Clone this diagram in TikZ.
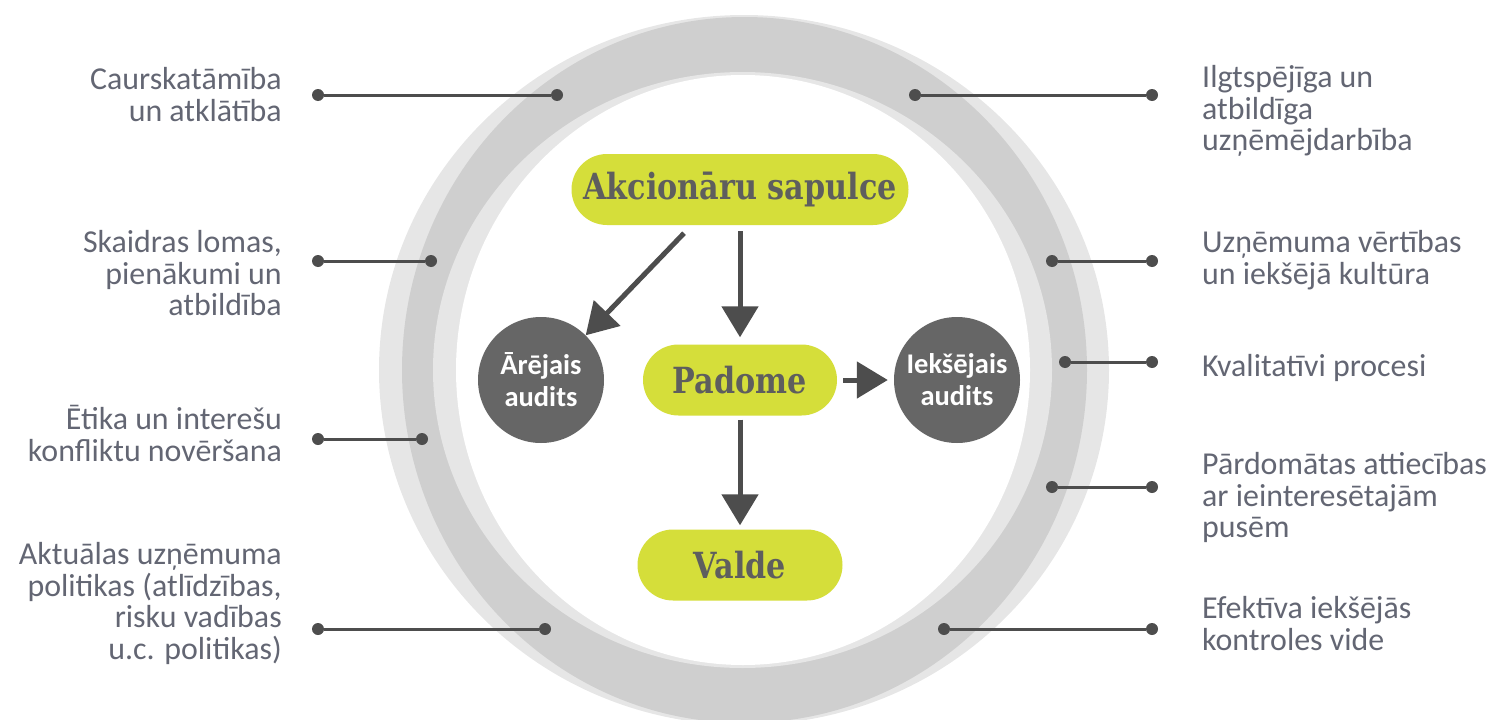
\documentclass[tikz,border=0pt]{standalone}
\usepackage{fontspec}
\setmainfont{Carlito}
\newfontfamily\slabfont{DejaVu Serif}
\usetikzlibrary{arrows.meta}
\definecolor{ringlight}{HTML}{E6E6E6}
\definecolor{ringmid}{HTML}{CFCFCF}
\definecolor{labeltext}{RGB}{99,102,115}
\definecolor{dotgray}{HTML}{4D4D4D}
\definecolor{pillgreen}{RGB}{213,222,58}
\definecolor{pilltext}{HTML}{5E5E5E}
\definecolor{auditgray}{HTML}{666666}
\definecolor{arrowgray}{HTML}{4D4D4D}
\newcommand{\lstrut}{\rule{0pt}{27pt}}
\newcommand{\slabtext}[1]{\scalebox{0.84}[1]{#1}}
\begin{document}
\begin{tikzpicture}[x=1pt,y=-1pt,
 pill/.style={fill=pillgreen, rounded corners=35.5pt, minimum height=71pt, inner sep=0pt, text=pilltext, font=\slabfont\bfseries\fontsize{36}{38}\selectfont},
 audit/.style={circle, fill=auditgray, minimum size=126pt, inner sep=0pt, text=white, align=center, font=\bfseries\fontsize{28.5}{32}\selectfont},
 flow/.style={-{Triangle[length=31pt,width=36pt]}, line width=5pt, draw=arrowgray},
 dot/.style={circle, fill=dotgray, minimum size=12pt, inner sep=0pt},
 link/.style={draw=dotgray, line width=3pt},
 lbl/.style={inner sep=0pt, text=labeltext, font=\fontsize{31.9}{31.8}\selectfont},
 lblL/.style={lbl, align=right, anchor=north east},
 lblR/.style={lbl, align=left, anchor=north west},
]
\useasboundingbox (0,0) rectangle (1492,720);
\clip (0,0) rectangle (1492,720);
% rings
\fill[ringlight] (744,370) ellipse [x radius=365, y radius=355];
\fill[ringmid] (744.5,370) ellipse [x radius=342.5, y radius=353];
\fill[ringlight] (742.5,370) ellipse [x radius=309.5, y radius=298];
\fill[white] (743,370) ellipse [x radius=287, y radius=295];

% central nodes
\node[pill, minimum width=337pt] (ak) at (740,189.5) {\slabtext{Akcionāru sapulce}};
\node[pill, minimum width=194pt] (pad) at (740,380) {\slabtext{Padome}};
\node[pill, minimum width=205pt] (val) at (740,565) {\slabtext{Valde}};
\node[audit] (ar) at (541,380) {Ārējais\\audits};
\node[audit] (iek) at (957,380) {Iekšējais\\audits};

\draw[flow] ([shift={(-56,8)}]ak.south) -- (ar.45);
\draw[flow, shorten <=6pt, shorten >=7pt] (ak.south) -- (pad.north);
\draw[flow, shorten <=4pt, shorten >=4pt] (pad.south) -- (val.north);
\draw[flow, shorten <=6pt, shorten >=6pt] (pad.east) -- (iek.west);

% left connectors
\node[dot] (l1a) at (318,95) {};
\node[dot] (l1b) at (557,95) {};
\draw[link] (l1a) -- (l1b);
\node[dot] (l2a) at (318,261) {};
\node[dot] (l2b) at (431,261) {};
\draw[link] (l2a) -- (l2b);
\node[dot] (l3a) at (318,439) {};
\node[dot] (l3b) at (422,439) {};
\draw[link] (l3a) -- (l3b);
\node[dot] (l4a) at (318,629) {};
\node[dot] (l4b) at (545,629) {};
\draw[link] (l4a) -- (l4b);

% right connectors
\node[dot] (r1a) at (915,95) {};
\node[dot] (r1b) at (1152,95) {};
\draw[link] (r1a) -- (r1b);
\node[dot] (r2a) at (1052,261) {};
\node[dot] (r2b) at (1152,261) {};
\draw[link] (r2a) -- (r2b);
\node[dot] (r3a) at (1065,362) {};
\node[dot] (r3b) at (1152,362) {};
\draw[link] (r3a) -- (r3b);
\node[dot] (r4a) at (1052,487) {};
\node[dot] (r4b) at (1152,487) {};
\draw[link] (r4a) -- (r4b);
\node[dot] (r5a) at (944,629) {};
\node[dot] (r5b) at (1152,629) {};
\draw[link] (r5a) -- (r5b);

% left labels
\node[lblL] (t1) at (282,62) {\lstrut Caurskatāmība\\un atklātība};
\node[lblL] (t2) at (282,225) {\lstrut Skaidras lomas,\\pienākumi un\\atbildība};
\node[lblL] (t3) at (282,402) {\lstrut Ētika un interešu\\konfliktu novēršana};
\node[lblL] (t4) at (282,537) {\lstrut Aktuālas uzņēmuma\\politikas (atlīdzības,\\risku vadības\\u.c. politikas)};

% right labels
\node[lblR] (s1) at (1202,60) {\lstrut Ilgtspējīga un\\atbildīga\\uzņēmējdarbība};
\node[lblR] (s2) at (1202,225) {\lstrut Uzņēmuma vērtības\\un iekšējā kultūra};
\node[lblR] (s3) at (1202,349) {\lstrut Kvalitatīvi procesi};
\node[lblR] (s4) at (1202,447) {\lstrut Pārdomātas attiecības\\ar ieinteresētajām\\pusēm};
\node[lblR] (s5) at (1202,591) {\lstrut Efektīva iekšējās\\kontroles vide};
\end{tikzpicture}
\end{document}
